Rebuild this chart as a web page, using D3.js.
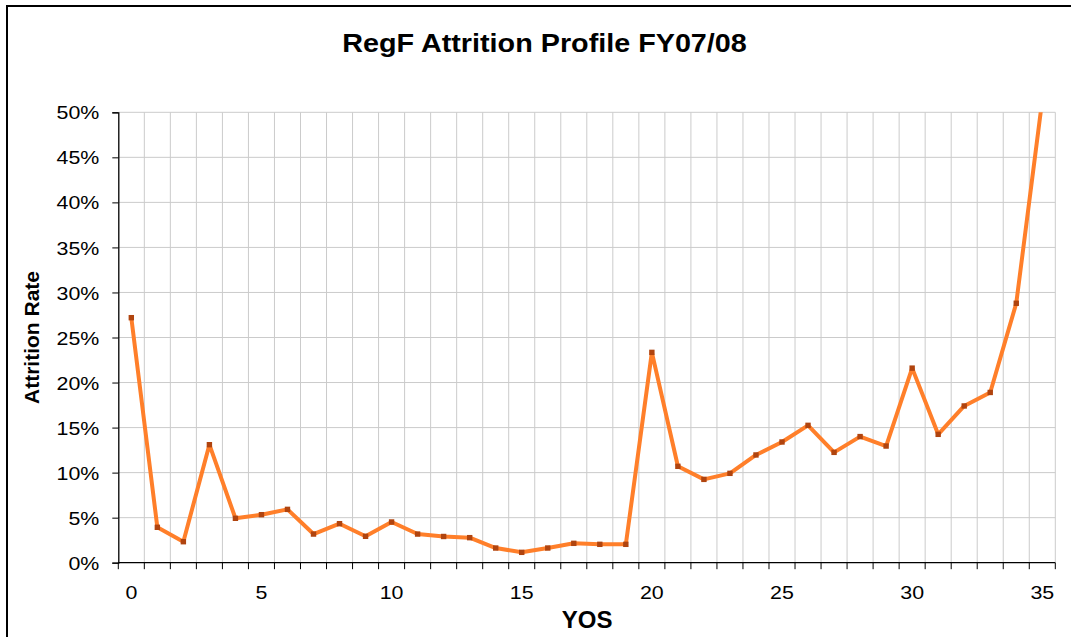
<!DOCTYPE html>
<html>
<head>
<meta charset="utf-8">
<script src="https://cdn.jsdelivr.net/npm/d3@7"></script>
<style>
  html, body { margin: 0; padding: 0; background: #ffffff; }
  svg { display: block; }
  text { font-family: "Liberation Sans", Arial, sans-serif; fill: #000; }
</style>
</head>
<body>
<svg id="chart" width="1071" height="637"></svg>
<script>
// ---- data ----
const years = d3.range(0, 36); // YOS categories 0..35
const attrition = [
  0.272, 0.0393, 0.0233, 0.131, 0.0493, 0.0533, 0.0592, 0.0318, 0.0433, 0.0293,
  0.0452, 0.0318, 0.0291, 0.0278, 0.0163, 0.0115, 0.0163, 0.0215, 0.0204, 0.0204,
  0.2335, 0.107, 0.0925, 0.0992, 0.1196, 0.134, 0.1525, 0.1225, 0.140, 0.1295,
  0.216, 0.1425, 0.174, 0.189, 0.288, 0.514
];
const yTicks = [0, 0.05, 0.10, 0.15, 0.20, 0.25, 0.30, 0.35, 0.40, 0.45, 0.50];
const xLabels = [0, 5, 10, 15, 20, 25, 30, 35];
const title = "RegF Attrition Profile FY07/08";
const xTitle = "YOS";
const yTitle = "Attrition Rate";

// ---- layout ----
const svg = d3.select("#chart");
const L = 118.3, R = 1055.3, T = 112.3, B = 562.7;
const SX = 1.15; // horizontal text stretch of the original

const x = d3.scaleBand().domain(years).range([L, R]).padding(0);
const y = d3.scaleLinear().domain([0, 0.5]).range([B, T]);
const cx = d => x(d) + x.bandwidth() / 2;

// outer frame
svg.append("rect").attr("x", 7).attr("y", 6).attr("width", 1100).attr("height", 700)
  .attr("fill", "#fff").attr("stroke", "#000").attr("stroke-width", 2);

// gridlines
const grid = svg.append("g");
grid.selectAll("line.h").data(yTicks.filter(v => v > 0)).enter().append("line")
  .attr("x1", L).attr("x2", R).attr("y1", d => y(d)).attr("y2", d => y(d))
  .attr("stroke", "#cbcbcb").attr("stroke-width", 1);
const bounds = years.map(d => x(d)).concat([R]).slice(1);
grid.selectAll("line.v").data(bounds).enter().append("line")
  .attr("x1", d => d).attr("x2", d => d).attr("y1", T).attr("y2", B)
  .attr("stroke", "#cbcbcb").attr("stroke-width", 1);

// y axis
const yAxis = d3.axisLeft(y).tickValues(yTicks).tickFormat(d3.format(".0%")).tickSize(6).tickPadding(0);
const gy = svg.append("g").attr("transform", `translate(${L},0)`).call(yAxis);
gy.select(".domain").attr("stroke", "#000").attr("stroke-width", 1.3);
gy.selectAll(".tick line").attr("stroke", "#000").attr("stroke-width", 1);
gy.selectAll(".tick text")
  .attr("x", null).attr("dy", null)
  .attr("transform", `translate(-19,6.6) scale(${SX},1)`)
  .attr("text-anchor", "end")
  .style("font-size", "18.6px").style("font-family", '"Liberation Sans", Arial, sans-serif');

// x axis (category boundaries ticks)
const tickPos = years.map(d => x(d)).concat([R]);
const gx = svg.append("g");
gx.append("line").attr("x1", L).attr("x2", R).attr("y1", B).attr("y2", B)
  .attr("stroke", "#000").attr("stroke-width", 1.3);
gx.selectAll("line.t").data(tickPos).enter().append("line")
  .attr("x1", d => d).attr("x2", d => d).attr("y1", B).attr("y2", B + 6.5)
  .attr("stroke", "#000").attr("stroke-width", 1);
gx.selectAll("text").data(xLabels).enter().append("text")
  .attr("transform", d => `translate(${cx(d)},599.3) scale(${SX},1)`)
  .attr("text-anchor", "middle")
  .style("font-size", "18.6px")
  .text(d => d);

// clip path for plot
svg.append("clipPath").attr("id", "plotclip").append("rect")
  .attr("x", L - 10).attr("y", T).attr("width", R - L + 20).attr("height", B - T + 10);

const series = years.map((d, i) => ({ k: d, v: attrition[i] }));
const line = d3.line().x(d => cx(d.k)).y(d => y(d.v));
const plot = svg.append("g").attr("clip-path", "url(#plotclip)");
plot.append("path").datum(series).attr("d", line)
  .attr("fill", "none").attr("stroke", "#ff7f2a").attr("stroke-width", 4)
  .attr("stroke-linejoin", "round");
plot.selectAll("rect.m").data(series.filter(d => d.v <= 0.5)).enter().append("rect")
  .attr("x", d => cx(d.k) - 2.7).attr("y", d => y(d.v) - 2.7)
  .attr("width", 5.4).attr("height", 5.4).attr("fill", "#b0440f");

// titles
svg.append("text")
  .attr("transform", `translate(544.5,52.3) scale(${SX},1)`)
  .attr("text-anchor", "middle").style("font-size", "25px").style("font-weight", "bold")
  .text(title);
svg.append("text")
  .attr("x", 587.2).attr("y", 627.7)
  .attr("text-anchor", "middle").style("font-size", "24px").style("font-weight", "bold")
  .text(xTitle);
svg.append("text")
  .attr("transform", `translate(39.3,337.5) rotate(-90)`)
  .attr("text-anchor", "middle").style("font-size", "21px").style("font-weight", "bold")
  .text(yTitle);
</script>
</body>
</html>
